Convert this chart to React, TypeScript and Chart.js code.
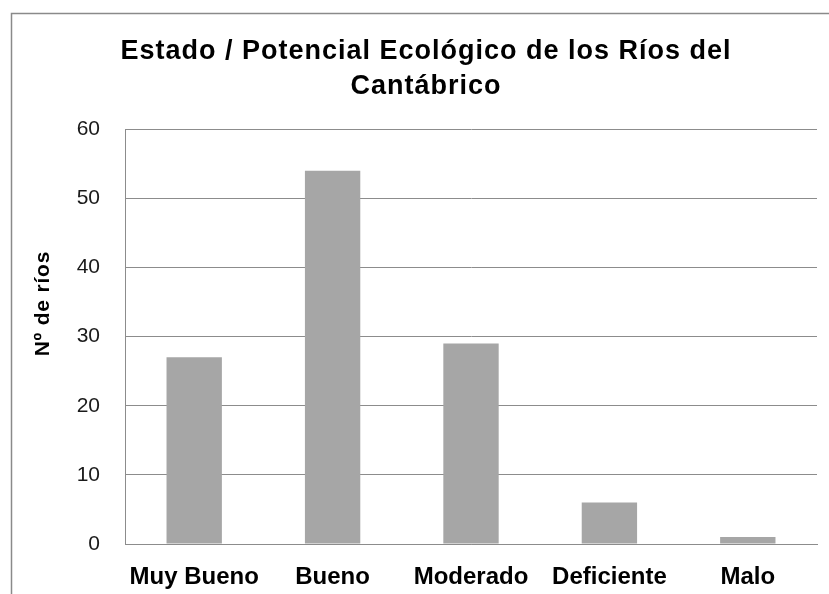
import React, { useEffect, useRef } from "react";
import { Chart, registerables } from "chart.js";

Chart.register(...registerables);

const categories = ["Muy Bueno", "Bueno", "Moderado", "Deficiente", "Malo"];
const values = [27, 54, 29, 6, 1];
const titleLines = ["Estado / Potencial Ecológico de los Ríos del", "Cantábrico"];
const yAxisTitle = "Nº de ríos";

const FONT = "'Liberation Sans', Arial, sans-serif";

const decorPlugin = {
  id: "decor",
  beforeDraw(chart: any) {
    const tb = chart.titleBlock;
    if (tb && !tb.__patched) {
      const orig = tb.draw;
      tb.draw = function (...args: any[]) {
        const ctx = this.ctx;
        ctx.save();
        (ctx as any).letterSpacing = "1px";
        ctx.translate(12, 0);
        orig.apply(this, args);
        ctx.restore();
      };
      tb.__patched = true;
    }
    const ys = chart.scales.y;
    if (ys && !ys.__patched) {
      const origT = ys.drawTitle;
      ys.drawTitle = function (...args: any[]) {
        const ctx = this.ctx;
        ctx.save();
        (ctx as any).letterSpacing = "0.8px";
        ctx.translate(0, -33);
        origT.apply(this, args);
        ctx.restore();
      };
      ys.__patched = true;
    }
  },
  afterDraw(chart: any) {
    const ctx = chart.ctx;
    ctx.save();
    ctx.strokeStyle = "#8a8a8a";
    ctx.lineWidth = 1.5;
    ctx.beginPath();
    ctx.moveTo(11.5, chart.height);
    ctx.lineTo(11.5, 13.5);
    ctx.lineTo(chart.width, 13.5);
    ctx.stroke();
    ctx.restore();
  },
};

export default function App() {
  const ref = useRef<HTMLCanvasElement>(null);
  useEffect(() => {
    if (!ref.current) return;
    const chart = new Chart(ref.current, {
      type: "bar",
      data: {
        labels: categories,
        datasets: [
          {
            data: values,
            backgroundColor: "#a6a6a6",
            borderWidth: 0,
            barPercentage: 0.4,
            categoryPercentage: 1.0,
          },
        ],
      },
      options: {
        animation: false,
        responsive: true,
        maintainAspectRatio: false,
        layout: { padding: { left: 11, top: 13, right: 24, bottom: 0 } },
        plugins: {
          legend: { display: false },
          tooltip: { enabled: false },
          title: {
            display: true,
            text: titleLines,
            color: "#000",
            font: { family: FONT, size: 27, weight: "bold", lineHeight: 1.3 },
            padding: { top: 21, bottom: 25 },
          },
        },
        scales: {
          x: {
            grid: { display: false },
            border: { display: true, color: "#8c8c8c", width: 1 },
            ticks: {
              color: "#000",
              font: { family: FONT, size: 24, weight: "bold" },
              padding: 11,
              maxRotation: 0,
              autoSkip: false,
            },
            afterFit: (s: any) => {
              s.height = 50;
            },
          },
          y: {
            min: 0,
            max: 60,
            grid: { color: "#8c8c8c", lineWidth: 1, drawTicks: false },
            border: { display: true, color: "#8c8c8c", width: 1 },
            ticks: {
              stepSize: 10,
              color: "#1a1a1a",
              font: { family: FONT, size: 21 },
              padding: 25,
            },
            title: {
              display: true,
              text: yAxisTitle,
              color: "#000",
              font: { family: FONT, size: 21, weight: "bold", lineHeight: 1.2 },
              padding: { top: 20, bottom: 0 },
            },
            afterFit: (s: any) => {
              s.width = 114;
            },
          },
        },
      },
      plugins: [decorPlugin],
    });
    return () => chart.destroy();
  }, []);
  return (
    <div style={{ position: "fixed", left: 0, top: 0, width: 841, height: 594, background: "#fff" }}>
      <canvas ref={ref} />
    </div>
  );
}
